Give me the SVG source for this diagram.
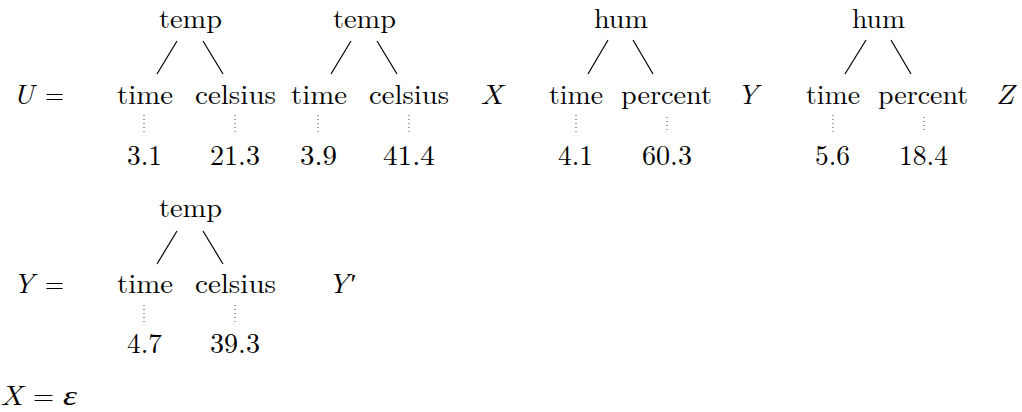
<svg xmlns="http://www.w3.org/2000/svg" width="1022" height="412" viewBox="0 0 1022 412" font-family="Latin Modern Roman, CMU Serif, Liberation Serif, serif" font-size="27.5">
<style>
text{fill:#000}
.m{font-style:italic}
.e{stroke:#000;stroke-width:1.2;fill:none}
.d{stroke:#444;stroke-width:1;stroke-dasharray:1 3;fill:none}
</style>
<rect width="1022" height="412" fill="#fff"/>
<g id="eqU">
<text class="m" x="13" y="104" textLength="21" lengthAdjust="spacingAndGlyphs">U</text>
<text x="45" y="104" textLength="19" lengthAdjust="spacingAndGlyphs">=</text>
</g>
<g id="eqY">
<text class="m" x="13" y="293" textLength="21" lengthAdjust="spacingAndGlyphs">Y</text>
<text x="45" y="293" textLength="19" lengthAdjust="spacingAndGlyphs">=</text>
</g>
<g id="eqX">
<text class="m" x="0" y="405" textLength="23" lengthAdjust="spacingAndGlyphs">X</text>
<text x="33" y="405" textLength="21" lengthAdjust="spacingAndGlyphs">=</text>
<text class="m" x="63" y="405" textLength="14" lengthAdjust="spacingAndGlyphs">ε</text>
</g>
<g id="connectors">
<line class="e" x1="177" y1="41" x2="157" y2="74"/>
<line class="e" x1="203" y1="41" x2="223" y2="74"/>
<line class="e" x1="351" y1="41" x2="331" y2="74"/>
<line class="e" x1="377" y1="41" x2="397" y2="74"/>
<line class="e" x1="608" y1="40" x2="588" y2="74"/>
<line class="e" x1="633" y1="40" x2="653" y2="74"/>
<line class="e" x1="866" y1="40" x2="845" y2="74"/>
<line class="e" x1="891" y1="40" x2="911" y2="74"/>
<line class="e" x1="177" y1="231" x2="157" y2="264"/>
<line class="e" x1="203" y1="231" x2="223" y2="264"/>
<line class="d" x1="144" y1="115" x2="144" y2="135"/>
<line class="d" x1="235" y1="115" x2="235" y2="135"/>
<line class="d" x1="318" y1="115" x2="318" y2="135"/>
<line class="d" x1="409" y1="115" x2="409" y2="135"/>
<line class="d" x1="576" y1="115" x2="576" y2="135"/>
<line class="d" x1="667" y1="117" x2="667" y2="132"/>
<line class="d" x1="833" y1="115" x2="833" y2="135"/>
<line class="d" x1="924" y1="117" x2="924" y2="132"/>
<line class="d" x1="144" y1="305" x2="144" y2="325"/>
<line class="d" x1="235" y1="305" x2="235" y2="325"/>
</g>
<g id="t1-temp"><text x="159" y="28" textLength="63" lengthAdjust="spacingAndGlyphs">temp</text></g>
<g id="t1-time"><text x="117" y="104" textLength="56" lengthAdjust="spacingAndGlyphs">time</text></g>
<g id="t1-celsius"><text x="195" y="104" textLength="81" lengthAdjust="spacingAndGlyphs">celsius</text></g>
<g id="t1-v1"><text x="127" y="165" textLength="35" lengthAdjust="spacingAndGlyphs">3.1</text></g>
<g id="t1-v2"><text x="210" y="165" textLength="50" lengthAdjust="spacingAndGlyphs">21.3</text></g>
<g id="t2-temp"><text x="333" y="28" textLength="63" lengthAdjust="spacingAndGlyphs">temp</text></g>
<g id="t2-time"><text x="291" y="104" textLength="56" lengthAdjust="spacingAndGlyphs">time</text></g>
<g id="t2-celsius"><text x="369" y="104" textLength="80" lengthAdjust="spacingAndGlyphs">celsius</text></g>
<g id="t2-v1"><text x="300" y="165" textLength="37" lengthAdjust="spacingAndGlyphs">3.9</text></g>
<g id="t2-v2"><text x="383" y="165" textLength="52" lengthAdjust="spacingAndGlyphs">41.4</text></g>
<g id="varX"><text class="m" x="480" y="104" textLength="23" lengthAdjust="spacingAndGlyphs">X</text></g>
<g id="t3-hum"><text x="594" y="28" textLength="54" lengthAdjust="spacingAndGlyphs">hum</text></g>
<g id="t3-time"><text x="549" y="104" textLength="54" lengthAdjust="spacingAndGlyphs">time</text></g>
<g id="t3-percent"><text x="621" y="104" textLength="91" lengthAdjust="spacingAndGlyphs">percent</text></g>
<g id="t3-v1"><text x="558" y="165" textLength="35" lengthAdjust="spacingAndGlyphs">4.1</text></g>
<g id="t3-v2"><text x="642" y="165" textLength="50" lengthAdjust="spacingAndGlyphs">60.3</text></g>
<g id="varY"><text class="m" x="737" y="104" textLength="21" lengthAdjust="spacingAndGlyphs">Y</text></g>
<g id="t4-hum"><text x="852" y="28" textLength="53" lengthAdjust="spacingAndGlyphs">hum</text></g>
<g id="t4-time"><text x="806" y="104" textLength="54" lengthAdjust="spacingAndGlyphs">time</text></g>
<g id="t4-percent"><text x="878" y="104" textLength="90" lengthAdjust="spacingAndGlyphs">percent</text></g>
<g id="t4-v1"><text x="815" y="165" textLength="35" lengthAdjust="spacingAndGlyphs">5.6</text></g>
<g id="t4-v2"><text x="899" y="165" textLength="49" lengthAdjust="spacingAndGlyphs">18.4</text></g>
<g id="varZ"><text class="m" x="996" y="104" textLength="18" lengthAdjust="spacingAndGlyphs">Z</text></g>
<g id="t5-temp"><text x="159" y="217" textLength="63" lengthAdjust="spacingAndGlyphs">temp</text></g>
<g id="t5-time"><text x="117" y="293" textLength="56" lengthAdjust="spacingAndGlyphs">time</text></g>
<g id="t5-celsius"><text x="195" y="293" textLength="81" lengthAdjust="spacingAndGlyphs">celsius</text></g>
<g id="t5-v1"><text x="127" y="353" textLength="35" lengthAdjust="spacingAndGlyphs">4.7</text></g>
<g id="t5-v2"><text x="210" y="353" textLength="50" lengthAdjust="spacingAndGlyphs">39.3</text></g>
<g id="varYp"><text class="m" x="328" y="293" textLength="27" lengthAdjust="spacingAndGlyphs">Y′</text></g>
</svg>
